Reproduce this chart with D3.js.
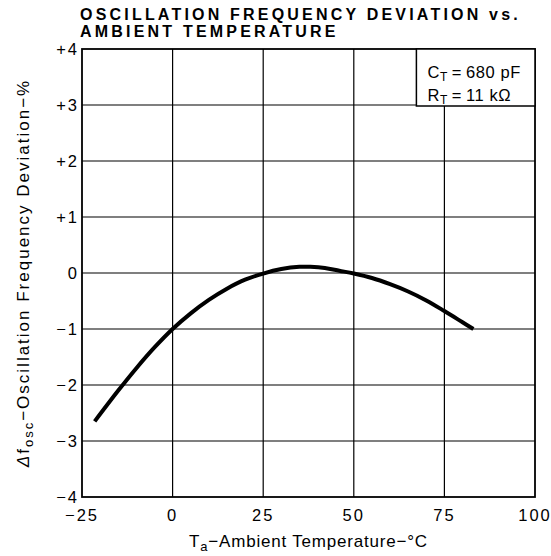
<!DOCTYPE html>
<html>
<head>
<meta charset="utf-8">
<script src="https://cdn.jsdelivr.net/npm/d3@7"></script>
<style>
  body { margin: 0; background: #fff; }
  text { font-family: "Liberation Sans", Arial, sans-serif; fill: #000; }
</style>
</head>
<body>
<svg id="chart" width="551" height="556"></svg>
<script>
// curve: temperature (°C) vs deviation (%)
const temps = [-21.5, -15, -10, -5, 0, 5, 10, 15, 20, 25, 30, 35, 38, 42, 46, 50, 55, 60, 65, 70, 75, 80, 83];
const devs = [-2.65, -2.1, -1.7, -1.33, -1.0, -0.72, -0.48, -0.28, -0.12, -0.01, 0.07, 0.11, 0.11, 0.09, 0.04, -0.01, -0.09, -0.2, -0.33, -0.49, -0.68, -0.88, -1.0];
const xTicks = [-25, 0, 25, 50, 75, 100];
const yTicks = [-4, -3, -2, -1, 0, 1, 2, 3, 4];
const titleLines = ["OSCILLATION FREQUENCY DEVIATION vs.", "AMBIENT TEMPERATURE"];

const margin = {top: 49, right: 16, bottom: 59, left: 82};
const svg = d3.select("#chart");
const width = +svg.attr("width") - margin.left - margin.right;
const height = +svg.attr("height") - margin.top - margin.bottom;

const x = d3.scaleLinear().domain([-25, 100]).range([0, width]);
const y = d3.scaleLinear().domain([-4, 4]).range([height, 0]);

const g = svg.append("g")
  .attr("transform", `translate(${margin.left}, ${margin.top})`);

// grid
g.selectAll("line.vgrid")
  .data(xTicks.slice(1, -1))
  .enter().append("line")
  .attr("class", "vgrid")
  .attr("x1", d => x(d)).attr("x2", d => x(d))
  .attr("y1", 0).attr("y2", height)
  .attr("stroke", "#000").attr("stroke-width", 1.2);

g.selectAll("line.hgrid")
  .data(yTicks.slice(1, -1))
  .enter().append("line")
  .attr("class", "hgrid")
  .attr("x1", 0).attr("x2", width)
  .attr("y1", d => y(d)).attr("y2", d => y(d))
  .attr("stroke", "#000").attr("stroke-width", 1.2);

// frame
g.append("rect")
  .attr("width", width).attr("height", height)
  .attr("fill", "none").attr("stroke", "#000").attr("stroke-width", 1.8);

// tick labels
const fmtY = d => d > 0 ? "+" + d : (d < 0 ? "\u2212" + Math.abs(d) : "0");
const fmtX = d => d < 0 ? "\u2212" + Math.abs(d) : String(d);

g.selectAll("text.ylab")
  .data(yTicks)
  .enter().append("text")
  .attr("class", "ylab")
  .attr("x", -3)
  .attr("y", d => y(d) + 6)
  .attr("text-anchor", "end")
  .attr("font-size", 16.5)
  .attr("letter-spacing", 2)
  .text(fmtY);

g.selectAll("text.xlab")
  .data(xTicks)
  .enter().append("text")
  .attr("class", "xlab")
  .attr("x", d => x(d))
  .attr("y", height + 24)
  .attr("text-anchor", "middle")
  .attr("font-size", 16.5)
  .attr("letter-spacing", 2)
  .text(fmtX);

// curve
const line = d3.line()
  .x((d, i) => x(temps[i]))
  .y(d => y(d))
  .curve(d3.curveCatmullRom);

g.append("path")
  .datum(devs)
  .attr("d", line)
  .attr("fill", "none")
  .attr("stroke", "#000")
  .attr("stroke-width", 4);

// condition box
const box = g.append("g").attr("transform", `translate(${x(75) - 28}, 0)`);
box.append("rect")
  .attr("width", x(100) - x(75) + 28).attr("height", 57)
  .attr("fill", "#fff").attr("stroke", "#000").attr("stroke-width", 1.5);
const c1 = box.append("text").attr("x", 11).attr("y", 29).attr("font-size", 16.5).attr("letter-spacing", 0.6);
c1.append("tspan").text("C");
c1.append("tspan").attr("font-size", 12).attr("dy", 3).text("T");
c1.append("tspan").attr("dy", -3).text("\u2009=\u2009680 pF");
const c2 = box.append("text").attr("x", 11).attr("y", 52).attr("font-size", 16.5).attr("letter-spacing", 0.6);
c2.append("tspan").text("R");
c2.append("tspan").attr("font-size", 12).attr("dy", 3).text("T");
c2.append("tspan").attr("dy", -3).text("\u2009=\u200911 k\u03a9");

// title
svg.selectAll("text.title")
  .data(titleLines)
  .enter().append("text")
  .attr("class", "title")
  .attr("x", 80)
  .attr("y", (d, i) => 20 + i * 17)
  .attr("font-size", 16)
  .attr("font-weight", "bold")
  .attr("letter-spacing", 3.2)
  .text(d => d);

// x axis title
const xt = svg.append("text")
  .attr("x", margin.left + width / 2)
  .attr("y", 547)
  .attr("text-anchor", "middle")
  .attr("font-size", 17)
  .attr("letter-spacing", 0.8);
xt.append("tspan").text("T");
xt.append("tspan").attr("font-size", 13).attr("dy", 4).text("a");
xt.append("tspan").attr("dy", -4).text("\u2212Ambient Temperature\u2212\u00b0C");

// y axis title
const yt = svg.append("text")
  .attr("transform", `translate(29, ${margin.top + height / 2}) rotate(-90)`)
  .attr("text-anchor", "middle")
  .attr("font-size", 17)
  .attr("letter-spacing", 2);
yt.append("tspan").attr("font-style", "italic").text("\u0394");
yt.append("tspan").text("f");
yt.append("tspan").attr("font-size", 13).attr("dy", 4).text("osc");
yt.append("tspan").attr("dy", -4).text("\u2212Oscillation Frequency Deviation\u2212%");
</script>
</body>
</html>
